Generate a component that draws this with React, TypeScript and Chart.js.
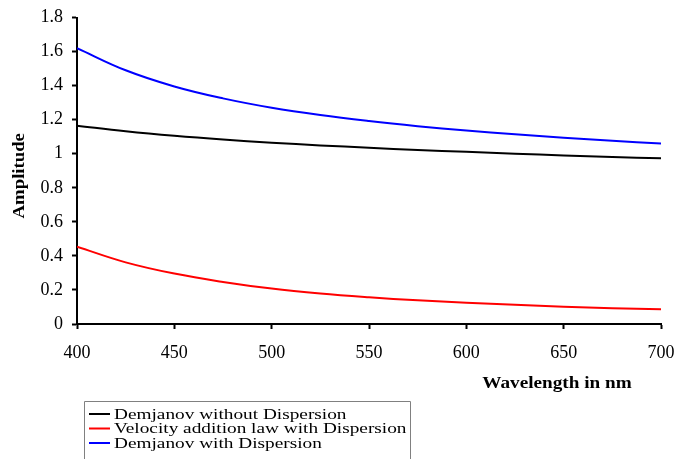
import React, { useEffect, useRef } from "react";
import { Chart, registerables } from "chart.js";

Chart.register(...registerables);

const wavelengths = [400, 425, 450, 475, 500, 525, 550, 575, 600, 625, 650, 675, 700];
const demjanovWithoutDispersion = [1.165, 1.132, 1.105, 1.083, 1.065, 1.049, 1.035, 1.022, 1.011, 1.0, 0.99, 0.981, 0.973];
const velocityAdditionWithDispersion = [0.454, 0.362, 0.296, 0.247, 0.208, 0.179, 0.157, 0.139, 0.125, 0.113, 0.102, 0.093, 0.086];
const demjanovWithDispersion = [1.62, 1.49, 1.395, 1.325, 1.27, 1.227, 1.192, 1.162, 1.136, 1.114, 1.094, 1.076, 1.06];
const seriesNames = [
  "Demjanov without Dispersion",
  "Velocity addition law with Dispersion",
  "Demjanov with Dispersion",
];
const seriesColors = ["#000000", "#ff0000", "#0000ff"];
const xTitle = "Wavelength in nm";
const yTitle = "Amplitude";

const SERIF = '"Liberation Serif", "Times New Roman", serif';

const annotationsPlugin = {
  id: "customTitlesLegend",
  afterDraw(chart: any) {
    const ctx = chart.ctx as CanvasRenderingContext2D;
    const area = chart.chartArea;
    ctx.save();
    ctx.fillStyle = "#000";
    ctx.font = `bold 16px ${SERIF}`;
    ctx.textAlign = "center";
    ctx.textBaseline = "middle";
    ctx.save();
    ctx.translate(area.right - 104, area.bottom + 60);
    ctx.scale(1.2, 1);
    ctx.fillText(xTitle, 0, 0);
    ctx.restore();
    ctx.save();
    ctx.translate(20, (area.top + area.bottom) / 2 + 5);
    ctx.rotate(-Math.PI / 2);
    ctx.scale(1.17, 1);
    ctx.fillText(yTitle, 0, 0);
    ctx.restore();

    // legend box
    const bx = 84.5;
    const by = 401.5;
    ctx.strokeStyle = "#808080";
    ctx.lineWidth = 1;
    ctx.beginPath();
    ctx.moveTo(bx, 470);
    ctx.lineTo(bx, by);
    ctx.lineTo(410.5, by);
    ctx.lineTo(410.5, 470);
    ctx.stroke();

    chart.data.datasets.forEach((ds: any, i: number) => {
      const y = 414 + i * 14.5;
      ctx.strokeStyle = ds.borderColor;
      ctx.lineWidth = 2;
      ctx.beginPath();
      ctx.moveTo(89, y);
      ctx.lineTo(110, y);
      ctx.stroke();
      ctx.save();
      ctx.translate(114, y + 1);
      ctx.scale(1.33, 1);
      ctx.fillStyle = "#000";
      ctx.font = `14.5px ${SERIF}`;
      ctx.textAlign = "left";
      ctx.textBaseline = "middle";
      ctx.fillText(ds.label, 0, 0);
      ctx.restore();
    });
    ctx.restore();
  },
};

export default function App() {
  const ref = useRef<HTMLCanvasElement | null>(null);

  useEffect(() => {
    if (!ref.current) return;
    const series = [demjanovWithoutDispersion, velocityAdditionWithDispersion, demjanovWithDispersion];
    const chart = new Chart(ref.current, {
      type: "line",
      data: {
        datasets: series.map((vals, i) => ({
          label: seriesNames[i],
          data: wavelengths.map((w, j) => ({ x: w, y: vals[j] })),
          borderColor: seriesColors[i],
          backgroundColor: seriesColors[i],
          borderWidth: 2,
          pointRadius: 0,
          tension: 0.4,
          fill: false,
        })),
      },
      options: {
        responsive: false,
        animation: false,
        events: [],
        layout: { padding: { left: 0, right: 14, top: 17.5, bottom: 0 } },
        plugins: {
          legend: { display: false },
          tooltip: { enabled: false },
        },
        scales: {
          x: {
            type: "linear",
            min: 400,
            max: 700,
            afterFit: (scale: any) => {
              scale.height = 135;
              scale.paddingLeft = 0;
              scale.paddingRight = 0;
            },
            ticks: {
              stepSize: 50,
              color: "#000",
              font: { family: SERIF, size: 18 },
              padding: 13,
              maxRotation: 0,
            },
            grid: {
              drawOnChartArea: false,
              drawTicks: true,
              tickLength: 5,
              tickColor: "#000",
              tickWidth: 2,
            },
            border: { color: "#000", width: 2 },
          },
          y: {
            type: "linear",
            min: 0,
            max: 1.8,
            afterFit: (scale: any) => {
              scale.width = 77;
              scale.paddingTop = 0;
              scale.paddingBottom = 0;
            },
            ticks: {
              stepSize: 0.2,
              color: "#000",
              font: { family: SERIF, size: 18 },
              padding: 9,
              callback: (v: any) => String(Math.round(Number(v) * 10) / 10),
            },
            grid: {
              drawOnChartArea: false,
              drawTicks: true,
              tickLength: 5,
              tickColor: "#000",
              tickWidth: 2,
            },
            border: { color: "#000", width: 2 },
          },
        },
      },
      plugins: [annotationsPlugin],
    });
    return () => chart.destroy();
  }, []);

  return (
    <canvas
      ref={ref}
      width={675}
      height={459}
      style={{ position: "fixed", left: 0, top: 0, width: 675, height: 459, display: "block", background: "#fff" }}
    />
  );
}
